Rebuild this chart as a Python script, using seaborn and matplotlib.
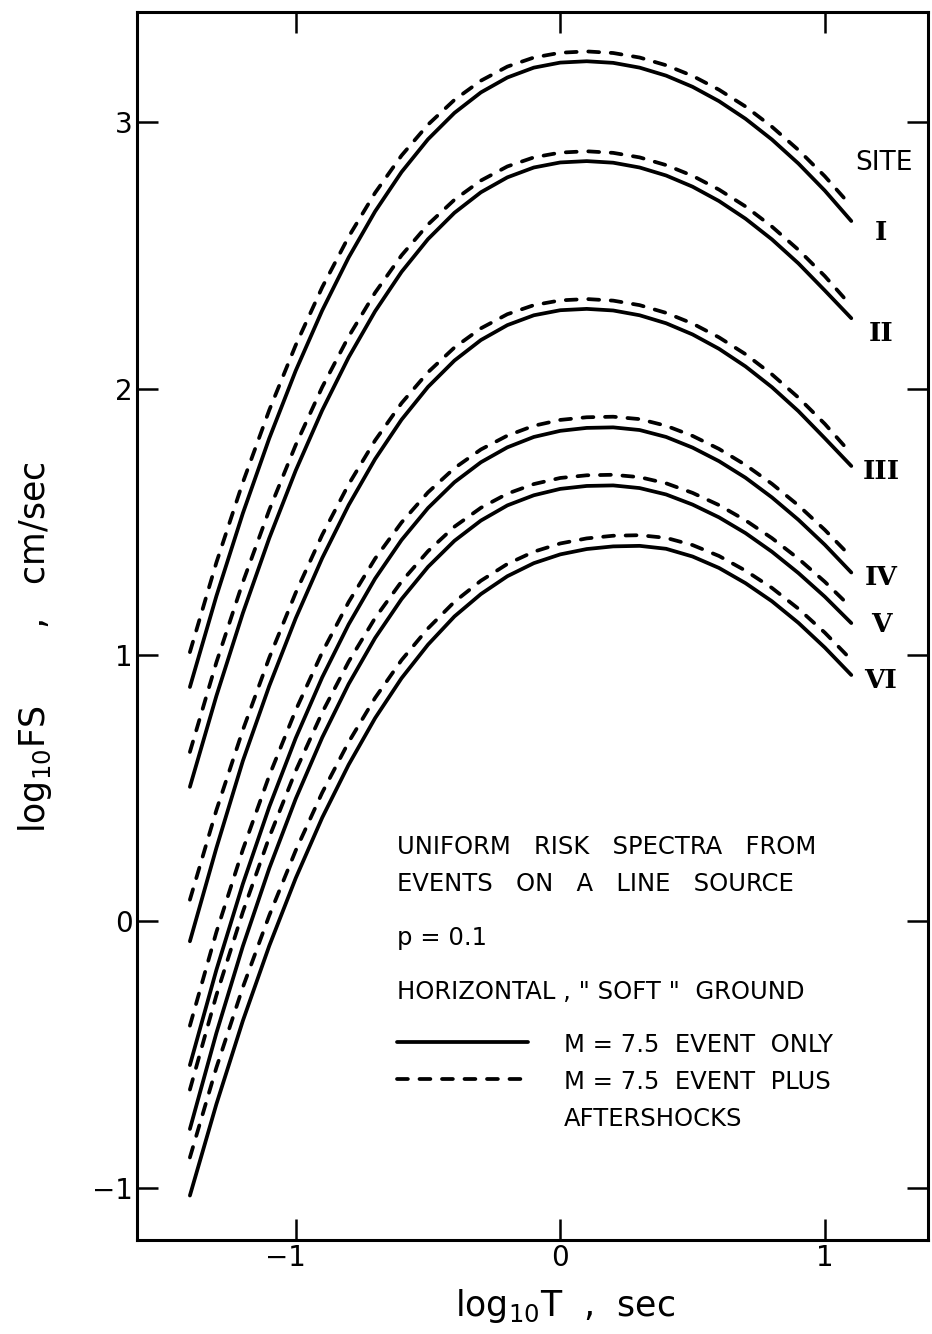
import matplotlib
matplotlib.use("Agg")
import matplotlib.pyplot as plt
import matplotlib.transforms as mtransforms
import numpy as np
import pandas as pd
import seaborn as sns

# Period axis (log10 T, sec) shared by every spectrum
log_T = [-1.4, -1.3, -1.2, -1.1, -1.0, -0.9, -0.8, -0.7, -0.6, -0.5, -0.4, -0.3, -0.2,
         -0.1, 0.0, 0.1, 0.2, 0.3, 0.4, 0.5, 0.6, 0.7, 0.8, 0.9, 1.0, 1.1]

sites = ["I", "II", "III", "IV", "V", "VI"]

# log10 FS (cm/sec), M = 7.5 event only
only_I = [0.880, 1.221, 1.532, 1.814, 2.068, 2.294, 2.493, 2.666, 2.814, 2.937, 3.036, 3.113, 3.169,
          3.206, 3.225, 3.230, 3.224, 3.206, 3.176, 3.134, 3.080, 3.014, 2.936, 2.846, 2.744, 2.630]
only_II = [0.505, 0.846, 1.157, 1.439, 1.693, 1.919, 2.118, 2.291, 2.439, 2.562, 2.661, 2.738, 2.794,
           2.831, 2.850, 2.855, 2.849, 2.831, 2.801, 2.759, 2.705, 2.639, 2.561, 2.471, 2.369, 2.265]
only_III = [-0.075, 0.275, 0.602, 0.884, 1.138, 1.364, 1.563, 1.736, 1.884, 2.007, 2.106, 2.183, 2.239,
            2.276, 2.295, 2.300, 2.294, 2.276, 2.246, 2.204, 2.150, 2.084, 2.006, 1.916, 1.814, 1.710]
only_IV = [-0.540, -0.183, 0.140, 0.430, 0.688, 0.916, 1.115, 1.287, 1.432, 1.552, 1.649, 1.724, 1.780,
           1.819, 1.842, 1.853, 1.855, 1.845, 1.819, 1.779, 1.728, 1.666, 1.592, 1.508, 1.414, 1.310]
only_V = [-0.780, -0.420, -0.094, 0.199, 0.460, 0.690, 0.891, 1.064, 1.210, 1.331, 1.429, 1.505, 1.562,
          1.600, 1.624, 1.635, 1.637, 1.627, 1.603, 1.565, 1.517, 1.458, 1.388, 1.308, 1.219, 1.120]
only_VI = [-1.030, -0.687, -0.374, -0.092, 0.162, 0.389, 0.588, 0.763, 0.913, 1.039, 1.145, 1.229, 1.296,
           1.345, 1.378, 1.398, 1.408, 1.410, 1.399, 1.370, 1.327, 1.270, 1.202, 1.121, 1.028, 0.925]

# log10 FS (cm/sec), M = 7.5 event plus aftershocks
plus_I = [1.011, 1.347, 1.648, 1.920, 2.164, 2.381, 2.571, 2.736, 2.876, 2.992, 3.085, 3.157, 3.210,
          3.244, 3.262, 3.267, 3.261, 3.244, 3.215, 3.175, 3.123, 3.060, 2.984, 2.897, 2.798, 2.686]
plus_II = [0.636, 0.972, 1.273, 1.545, 1.789, 2.006, 2.196, 2.361, 2.501, 2.617, 2.710, 2.782, 2.835,
           2.869, 2.887, 2.892, 2.886, 2.869, 2.840, 2.800, 2.748, 2.685, 2.609, 2.522, 2.423, 2.311]
plus_III = [0.081, 0.417, 0.718, 0.990, 1.234, 1.451, 1.641, 1.806, 1.946, 2.062, 2.155, 2.227, 2.280,
            2.314, 2.332, 2.337, 2.331, 2.314, 2.285, 2.245, 2.193, 2.130, 2.054, 1.967, 1.868, 1.756]
plus_IV = [-0.392, -0.041, 0.269, 0.547, 0.793, 1.010, 1.199, 1.362, 1.498, 1.611, 1.702, 1.772, 1.824,
           1.861, 1.883, 1.893, 1.895, 1.886, 1.861, 1.823, 1.774, 1.714, 1.643, 1.562, 1.470, 1.368]
plus_V = [-0.632, -0.278, 0.035, 0.316, 0.565, 0.784, 0.975, 1.139, 1.276, 1.390, 1.482, 1.553, 1.606,
          1.642, 1.665, 1.675, 1.677, 1.668, 1.645, 1.609, 1.563, 1.506, 1.439, 1.362, 1.275, 1.178]
plus_VI = [-0.887, -0.550, -0.248, 0.022, 0.266, 0.483, 0.673, 0.839, 0.981, 1.100, 1.200, 1.279, 1.342,
           1.388, 1.419, 1.438, 1.448, 1.450, 1.440, 1.413, 1.372, 1.317, 1.252, 1.174, 1.084, 0.982]

x_ticks = [-1, 0, 1]
y_ticks = [-1, 0, 1, 2, 3]

only_series = [only_I, only_II, only_III, only_IV, only_V, only_VI]
plus_series = [plus_I, plus_II, plus_III, plus_IV, plus_V, plus_VI]

frames = []
for site, y_only, y_plus in zip(sites, only_series, plus_series):
    frames.append(pd.DataFrame({"logT": log_T, "logFS": y_only,
                                "case": "only", "curve": site + "-only"}))
    frames.append(pd.DataFrame({"logT": log_T, "logFS": y_plus,
                                "case": "plus", "curve": site + "-plus"}))
df = pd.concat(frames, ignore_index=True)

sns.set_style("ticks")
plt.rcParams["font.family"] = ["DejaVu Sans"]
plt.rcParams["text.color"] = "black"
plt.rcParams["axes.labelcolor"] = "black"
plt.rcParams["xtick.color"] = "black"
plt.rcParams["ytick.color"] = "black"

W, H = 932, 1334
fig = plt.figure(figsize=(W / 100, H / 100), dpi=100)
ax = fig.add_axes([137 / W, 1 - 1240 / H, (928 - 137) / W, (1240 - 12) / H])

LW = 2.7
DASH = (2.9, 3.1)
sns.lineplot(data=df, x="logT", y="logFS", units="curve", estimator=None,
             style="case", style_order=["only", "plus"],
             dashes={"only": "", "plus": DASH},
             color="black", linewidth=LW, sort=False, legend=False, ax=ax,
             dash_capstyle="round", solid_capstyle="round")

ax.set_xlim(-1.6, 1.39)
ax.set_ylim(-1.197, 3.415)
ax.set_xticks(x_ticks)
ax.set_yticks(y_ticks)
ax.set_xticklabels(["\u22121", "0", "1"])
ax.set_yticklabels(["\u22121", "0", "1", "2", "3"])
ax.tick_params(direction="in", length=15, width=1.8, labelsize=20, pad=3,
               top=True, right=True, colors="black")
# keep the digit of "-1" over its tick, with the sign hanging to the left
neg_label = ax.get_xticklabels()[0]
neg_label.set_horizontalalignment("right")
neg_label.set_transform(neg_label.get_transform() +
                        mtransforms.ScaledTranslation(7 / 72, 0, fig.dpi_scale_trans))
for sp in ax.spines.values():
    sp.set_linewidth(2.2)
    sp.set_color("black")
ax.set_xlabel("")
ax.set_ylabel("")
ax.set_facecolor("white")
fig.patch.set_facecolor("white")

# axis titles
fig.text(565 / W, 1 - 1306 / H, "log$_{10}$T  ,  sec", fontsize=25,
         ha="center", va="center", color="black")
fig.text(35 / W, 1 - 647 / H, "log$_{10}$FS       ,   cm/sec", fontsize=25,
         ha="center", va="center", rotation=90, color="black")

# site labels at the long-period ends
fig.text(884 / W, 1 - 163 / H, "SITE", fontsize=19, family="DejaVu Sans",
         ha="center", va="center", color="black")
site_y = [232, 333, 471, 578, 625, 681]
for lab, yy in zip(sites, site_y):
    fig.text(881 / W, 1 - yy / H, lab, fontsize=19, family="DejaVu Serif",
             weight="bold", ha="center", va="center", color="black")

# annotation block
note_kw = dict(fontsize=17.5, family="DejaVu Sans", ha="left", va="center",
               color="black")
fig.text(397 / W, 1 - 847 / H, "UNIFORM   RISK   SPECTRA   FROM", **note_kw)
fig.text(397 / W, 1 - 884 / H, "EVENTS   ON   A   LINE   SOURCE", **note_kw)
fig.text(397 / W, 1 - 938 / H, "p = 0.1", **note_kw)
fig.text(397 / W, 1 - 992 / H, "HORIZONTAL , \" SOFT \"  GROUND", **note_kw)
fig.text(564 / W, 1 - 1045 / H, "M = 7.5  EVENT  ONLY", **note_kw)
fig.text(564 / W, 1 - 1082 / H, "M = 7.5  EVENT  PLUS", **note_kw)
fig.text(564 / W, 1 - 1119 / H, "AFTERSHOCKS", **note_kw)

# line key
key_x = [397 / W, 528 / W]
fig.add_artist(plt.Line2D(key_x, [1 - 1042 / H] * 2, color="black", lw=LW,
                          solid_capstyle="round", transform=fig.transFigure))
fig.add_artist(plt.Line2D(key_x, [1 - 1079 / H] * 2, color="black", lw=LW,
                          dashes=DASH, dash_capstyle="round",
                          transform=fig.transFigure))

fig.savefig("out.png", dpi=100, facecolor="white")
